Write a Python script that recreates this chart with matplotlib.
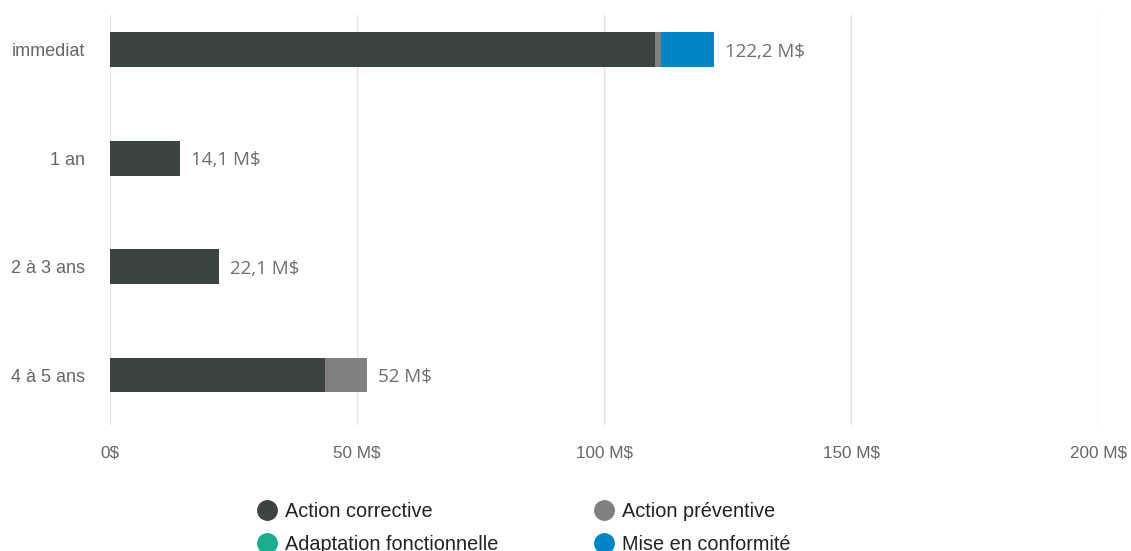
import matplotlib.pyplot as plt
from matplotlib.lines import Line2D

categories = ['immediat', '1 an', '2 à 3 ans', '4 à 5 ans']
corrective = [110.4, 14.1, 22.1, 43.5]
preventive = [1.2, 0.0, 0.0, 8.5]
adaptation = [0.0, 0.0, 0.0, 0.0]
conformite = [10.6, 0.0, 0.0, 0.0]
totals_text = ['122,2 M$', '14,1 M$', '22,1 M$', '52 M$']
x_ticks = [0, 50, 100, 150, 200]
x_tick_labels = ['0$', '50 M$', '100 M$', '150 M$', '200 M$']

series = [
    ('Action corrective', corrective, '#3C4441'),
    ('Action préventive', preventive, '#808080'),
    ('Adaptation fonctionnelle', adaptation, '#1AAE8E'),
    ('Mise en conformité', conformite, '#0085C8'),
]

plt.rcParams['font.family'] = ['Liberation Sans', 'DejaVu Sans']

fig = plt.figure(figsize=(11.31, 5.51), dpi=100)
ax = fig.add_axes([110 / 1131, 1 - 425 / 551, 988 / 1131, 410 / 551])

ypos = list(range(len(categories)))
left = [0.0] * len(categories)
for name, vals, color in series:
    ax.barh(ypos, vals, left=left, height=0.32, color=color, zorder=3)
    left = [l + v for l, v in zip(left, vals)]

for y, total, txt in zip(ypos, left, totals_text):
    ax.annotate(txt, (total, y), xytext=(8, -1.5), textcoords='offset points',
                va='center', ha='left', fontsize=13.5, color='#6E6E6E',
                family=['Open Sans', 'DejaVu Sans'])

ax.set_xlim(0, 200)
ax.set_ylim(3.46, -0.32)
ax.set_yticks(ypos)
ax.set_yticklabels(categories, fontsize=13, color='#666666')
ax.set_xticks(x_ticks)
ax.set_xticklabels(x_tick_labels, fontsize=12.3, color='#666666')
ax.tick_params(axis='both', length=0)
ax.tick_params(axis='y', pad=18)
ax.tick_params(axis='x', pad=15)
ax.grid(axis='x', color='#E3E3E3', linewidth=1, zorder=0)
for s in ax.spines.values():
    s.set_visible(False)

handles = [Line2D([], [], marker='o', linestyle='', markersize=14, color=c) for _, _, c in series]
labels = [n for n, _, _ in series]
# order so columns read: corrective/adaptation, preventive/conformite
order = [0, 2, 1, 3]
fig.legend([handles[i] for i in order], [labels[i] for i in order], ncol=2,
           loc='upper left', bbox_to_anchor=(237 / 1131, 1 - 484 / 551), frameon=False,
           fontsize=14.3, handletextpad=0.3, columnspacing=4.75, labelspacing=0.72,
           handlelength=1.2, labelcolor='#222222')

fig.savefig('out.png', dpi=100)
